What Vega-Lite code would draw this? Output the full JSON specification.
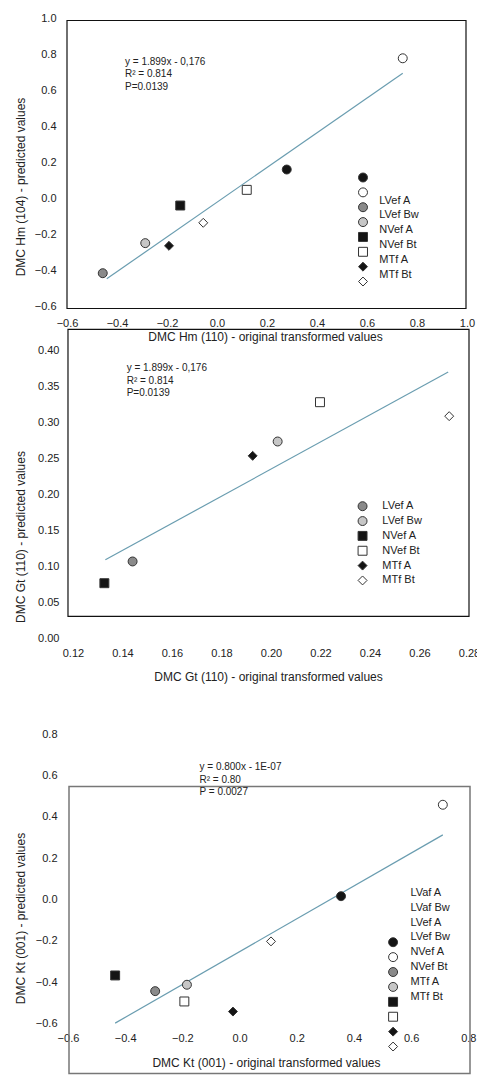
{
  "$schema": "https://vega.github.io/schema/vega-lite/v6.json",
  "autosize": {"type": "pad"},
  "padding": {"left": 14, "top": 12.5, "right": 0, "bottom": 0},
  "background": "white",
  "bounds": "flush",
  "spacing": 0,
  "config": {
    "font": "Liberation Sans",
    "view": {"stroke": null},
    "axis": {"grid": false, "domain": false, "ticks": false, "tickSize": 0, "tickCount": 30, "labelFontSize": 11, "titleFontSize": 12, "titleFontWeight": "normal", "labelColor": "#222", "titleColor": "#222", "labelFlush": false, "labelOverlap": false, "labelBound": false, "titleBaseline": "middle", "titleAlign": "center"},
    "text": {"color": "#222"}
  },
  "vconcat": [
    {
      "width": 400, "height": 288,
      "layer": [
        {
          "layer": [
            {
              "data": {"values": [
                {"series": "LVaf A", "x": 0.279, "y": 0.161},
                {"series": "LVaf Bw", "x": 0.743, "y": 0.779},
                {"series": "LVef A", "x": -0.457, "y": -0.415},
                {"series": "LVef Bw", "x": -0.287, "y": -0.248},
                {"series": "NVef A", "x": -0.147, "y": -0.039},
                {"series": "NVef Bt", "x": 0.119, "y": 0.048},
                {"series": "MTf A", "x": -0.192, "y": -0.263},
                {"series": "MTf Bt", "x": -0.055, "y": -0.135}
              ]},
              "mark": {"type": "point", "filled": true, "stroke": "#333", "strokeWidth": 1, "opacity": 1},
              "encoding": {
                "x": {"field": "x", "type": "quantitative", "scale": {"domain": [-0.6, 1.0], "nice": false, "zero": false},
                  "axis": {"title": "DMC Hm (110) - original transformed values", "values": [-0.6, -0.4, -0.2, 0, 0.2, 0.4, 0.6, 0.8, 1.0], "tickCount": 30, "format": ".1f", "labelOverlap": false, "labelPadding": 16.7, "labelBaseline": "middle", "titleX": 198, "titleY": 30}},
                "y": {"field": "y", "type": "quantitative", "scale": {"domain": [-0.6, 1.0], "nice": false, "zero": false},
                  "axis": {"title": "DMC Hm (104) - predicted values", "values": [-0.6, -0.4, -0.2, 0, 0.2, 0.4, 0.6, 0.8, 1.0], "tickCount": 30, "format": ".1f", "labelOverlap": false, "labelPadding": 11, "titleX": -47, "titleY": 168}},
                "shape": {"field": "series", "type": "nominal", "legend": null, "scale": {"domain": ["LVaf A", "LVaf Bw", "LVef A", "LVef Bw", "NVef A", "NVef Bt", "MTf A", "MTf Bt"], "range": ["circle", "circle", "circle", "circle", "square", "square", "diamond", "diamond"]}},
                "fill": {"field": "series", "type": "nominal", "legend": null, "scale": {"domain": ["LVaf A", "LVaf Bw", "LVef A", "LVef Bw", "NVef A", "NVef Bt", "MTf A", "MTf Bt"], "range": ["#141414", "#ffffff", "#8a8a8a", "#c6c6c6", "#141414", "#ffffff", "#141414", "#ffffff"]}},
                "size": {"field": "series", "type": "nominal", "legend": null, "scale": {"domain": ["LVaf A", "LVaf Bw", "LVef A", "LVef Bw", "NVef A", "NVef Bt", "MTf A", "MTf Bt"], "range": [80, 80, 80, 80, 68, 68, 140, 140]}}
              }
            },
            {
              "data": {"values": [{}]},
              "mark": {"type": "rect", "fillOpacity": 0, "stroke": "#111", "strokeWidth": 1.2},
              "encoding": {
                "x": {"datum": -0.6, "type": "quantitative", "scale": {"domain": [-0.6, 1.0], "nice": false, "zero": false}},
                "x2": {"datum": 0.996},
                "y": {"datum": -0.611, "type": "quantitative", "scale": {"domain": [-0.6, 1.0], "nice": false, "zero": false}},
                "y2": {"datum": 0.989}
              }
            },
            {
              "data": {"values": [{"x": -0.441, "y": -0.446}, {"x": 0.743, "y": 0.696}]},
              "mark": {"type": "line", "color": "#6a9db0", "strokeWidth": 1.2},
              "encoding": {
                "x": {"field": "x", "type": "quantitative", "scale": {"domain": [-0.6, 1.0], "nice": false, "zero": false}},
                "y": {"field": "y", "type": "quantitative", "scale": {"domain": [-0.6, 1.0], "nice": false, "zero": false}}
              }
            },
            {
              "data": {"values": [{"t": ["y = 1.899x - 0,176", "R² = 0.814", "P=0.0139"]}]},
              "mark": {"type": "text", "align": "left", "baseline": "top", "fontSize": 10, "lineHeight": 12.3},
              "encoding": {
                "x": {"datum": -0.368, "type": "quantitative"},
                "y": {"datum": 0.786, "type": "quantitative"},
                "text": {"field": "t"}
              }
            }
          ]
        },
        {
          "layer": [
            {
              "data": {"values": [
                {"series": "LVaf A", "r": 0}, {"series": "LVaf Bw", "r": 1}, {"series": "LVef A", "r": 2}, {"series": "LVef Bw", "r": 3},
                {"series": "NVef A", "r": 4}, {"series": "NVef Bt", "r": 5}, {"series": "MTf A", "r": 6}, {"series": "MTf Bt", "r": 7}
              ]},
              "mark": {"type": "point", "filled": true, "stroke": "#333", "strokeWidth": 1, "opacity": 1},
              "encoding": {
                "x": {"datum": 0.584, "type": "quantitative"},
                "y": {"field": "r", "type": "quantitative", "axis": null, "scale": {"domain": [-10.70, 8.681], "reverse": true, "nice": false, "zero": false}},
                "shape": {"field": "series", "type": "nominal", "legend": null},
                "fill": {"field": "series", "type": "nominal", "legend": null},
                "size": {"field": "series", "type": "nominal", "legend": null}
              }
            },
            {
              "data": {"values": [
                {"label": "LVef A", "r": 0}, {"label": "LVef Bw", "r": 1}, {"label": "NVef A", "r": 2},
                {"label": "NVef Bt", "r": 3}, {"label": "MTf A", "r": 4}, {"label": "MTf Bt", "r": 5}
              ]},
              "mark": {"type": "text", "align": "left", "baseline": "middle", "fontSize": 11, "dy": 23},
              "encoding": {
                "x": {"datum": 0.649, "type": "quantitative"},
                "y": {"field": "r", "type": "quantitative", "axis": null, "scale": {"domain": [-10.70, 8.681], "reverse": true, "nice": false, "zero": false}},
                "text": {"field": "label"}
              }
            }
          ]
        }
      ],
      "resolve": {"scale": {"y": "independent"}}
    },
    {
      "width": 402, "height": 332,
      "layer": [
        {
          "layer": [
            {
              "data": {"values": [{}]},
              "mark": {"type": "rect", "fillOpacity": 0, "stroke": "#111", "strokeWidth": 1.2},
              "encoding": {
                "x": {"datum": 0.118, "type": "quantitative", "scale": {"domain": [0.1176, 0.28], "nice": false, "zero": false}},
                "x2": {"datum": 0.28},
                "y": {"datum": 0.0306, "type": "quantitative", "scale": {"domain": [0, 0.4611], "nice": false, "zero": false}},
                "y2": {"datum": 0.4292}
              }
            },
            {
              "data": {"values": [{"x": 0.1331, "y": 0.1093}, {"x": 0.2716, "y": 0.370}]},
              "mark": {"type": "line", "color": "#6a9db0", "strokeWidth": 1.2},
              "encoding": {
                "x": {"field": "x", "type": "quantitative", "scale": {"domain": [0.1176, 0.28], "nice": false, "zero": false}},
                "y": {"field": "y", "type": "quantitative", "scale": {"domain": [0, 0.4611], "nice": false, "zero": false}}
              }
            },
            {
              "data": {"values": [
                {"series": "LVef A", "x": 0.1441, "y": 0.107},
                {"series": "NVef A", "x": 0.1327, "y": 0.0768},
                {"series": "MTf A", "x": 0.1926, "y": 0.2537},
                {"series": "LVef Bw", "x": 0.2027, "y": 0.2736},
                {"series": "NVef Bt", "x": 0.2198, "y": 0.3282},
                {"series": "MTf Bt", "x": 0.272, "y": 0.3088}
              ]},
              "mark": {"type": "point", "filled": true, "stroke": "#333", "strokeWidth": 1, "opacity": 1},
              "encoding": {
                "x": {"field": "x", "type": "quantitative", "scale": {"domain": [0.1176, 0.28], "nice": false, "zero": false},
                  "axis": {"title": "DMC Gt (110) - original transformed values", "values": [0.12, 0.14, 0.16, 0.18, 0.2, 0.22, 0.24, 0.26, 0.28], "tickCount": 30, "format": ".2f", "labelOverlap": false, "labelPadding": 15, "labelBaseline": "middle", "titleX": 201, "titleY": 37.7}},
                "y": {"field": "y", "type": "quantitative", "scale": {"domain": [0, 0.4611], "nice": false, "zero": false},
                  "axis": {"title": "DMC Gt (110) - predicted values", "values": [0, 0.05, 0.1, 0.15, 0.2, 0.25, 0.3, 0.35, 0.4], "tickCount": 30, "format": ".2f", "labelOverlap": false, "labelPadding": 8, "titleX": -47, "titleY": 230}},
                "shape": {"field": "series", "type": "nominal", "legend": null, "scale": {"domain": ["LVaf A", "LVaf Bw", "LVef A", "LVef Bw", "NVef A", "NVef Bt", "MTf A", "MTf Bt"], "range": ["circle", "circle", "circle", "circle", "square", "square", "diamond", "diamond"]}},
                "fill": {"field": "series", "type": "nominal", "legend": null, "scale": {"domain": ["LVaf A", "LVaf Bw", "LVef A", "LVef Bw", "NVef A", "NVef Bt", "MTf A", "MTf Bt"], "range": ["#141414", "#ffffff", "#8a8a8a", "#c6c6c6", "#141414", "#ffffff", "#141414", "#ffffff"]}},
                "size": {"field": "series", "type": "nominal", "legend": null, "scale": {"domain": ["LVaf A", "LVaf Bw", "LVef A", "LVef Bw", "NVef A", "NVef Bt", "MTf A", "MTf Bt"], "range": [80, 80, 80, 80, 68, 68, 140, 140]}}
              }
            },
            {
              "data": {"values": [{"t": ["y = 1.899x - 0,176", "R² = 0.814", "P=0.0139"]}]},
              "mark": {"type": "text", "align": "left", "baseline": "top", "fontSize": 10, "lineHeight": 12.4},
              "encoding": {
                "x": {"datum": 0.1417, "type": "quantitative"},
                "y": {"datum": 0.382, "type": "quantitative"},
                "text": {"field": "t"}
              }
            }
          ]
        },
        {
          "layer": [
            {
              "data": {"values": [
                {"series": "LVef A", "r": 0}, {"series": "LVef Bw", "r": 1}, {"series": "NVef A", "r": 2},
                {"series": "NVef Bt", "r": 3}, {"series": "MTf A", "r": 4}, {"series": "MTf Bt", "r": 5}
              ]},
              "mark": {"type": "point", "filled": true, "stroke": "#333", "strokeWidth": 1, "opacity": 1},
              "encoding": {
                "x": {"datum": 0.237, "type": "quantitative"},
                "y": {"field": "r", "type": "quantitative", "axis": null, "scale": {"domain": [-13.448, 8.909], "reverse": true, "nice": false, "zero": false}},
                "shape": {"field": "series", "type": "nominal", "legend": null},
                "fill": {"field": "series", "type": "nominal", "legend": null},
                "size": {"field": "series", "type": "nominal", "legend": null}
              }
            },
            {
              "data": {"values": [
                {"label": "LVef A", "r": 0}, {"label": "LVef Bw", "r": 1}, {"label": "NVef A", "r": 2},
                {"label": "NVef Bt", "r": 3}, {"label": "MTf A", "r": 4}, {"label": "MTf Bt", "r": 5}
              ]},
              "mark": {"type": "text", "align": "left", "baseline": "middle", "fontSize": 11},
              "encoding": {
                "x": {"datum": 0.245, "type": "quantitative"},
                "y": {"field": "r", "type": "quantitative", "axis": null, "scale": {"domain": [-13.448, 8.909], "reverse": true, "nice": false, "zero": false}},
                "text": {"field": "label"}
              }
            }
          ]
        }
      ],
      "resolve": {"scale": {"y": "independent"}}
    },
    {
      "width": 403, "height": 390,
      "layer": [
        {
          "layer": [
            {
              "data": {"values": [{}]},
              "mark": {"type": "rect", "fillOpacity": 0, "stroke": "#777", "strokeWidth": 1.5},
              "encoding": {
                "x": {"datum": -0.5964, "type": "quantitative", "scale": {"domain": [-0.6034, 0.806], "nice": false, "zero": false}},
                "x2": {"datum": 0.806},
                "y": {"datum": -0.843, "type": "quantitative", "scale": {"domain": [-0.625, 1.2645], "nice": false, "zero": false}},
                "y2": {"datum": 0.5475}
              }
            },
            {
              "data": {"values": [{"x": -0.435, "y": -0.599}, {"x": 0.711, "y": 0.313}]},
              "mark": {"type": "line", "color": "#6a9db0", "strokeWidth": 1.2},
              "encoding": {
                "x": {"field": "x", "type": "quantitative", "scale": {"domain": [-0.6034, 0.806], "nice": false, "zero": false}},
                "y": {"field": "y", "type": "quantitative", "scale": {"domain": [-0.625, 1.2645], "nice": false, "zero": false}}
              }
            },
            {
              "data": {"values": [
                {"series": "LVaf A", "x": 0.355, "y": 0.016},
                {"series": "LVaf Bw", "x": 0.711, "y": 0.459},
                {"series": "LVef A", "x": -0.295, "y": -0.444},
                {"series": "LVef Bw", "x": -0.184, "y": -0.413},
                {"series": "NVef A", "x": -0.435, "y": -0.368},
                {"series": "NVef Bt", "x": -0.193, "y": -0.494},
                {"series": "MTf A", "x": -0.023, "y": -0.543},
                {"series": "MTf Bt", "x": 0.11, "y": -0.203}
              ]},
              "mark": {"type": "point", "filled": true, "stroke": "#333", "strokeWidth": 1, "opacity": 1},
              "encoding": {
                "x": {"field": "x", "type": "quantitative", "scale": {"domain": [-0.6034, 0.806], "nice": false, "zero": false},
                  "axis": {"title": "DMC Kt (001) - original transformed values", "values": [-0.6, -0.4, -0.2, 0, 0.2, 0.4, 0.6, 0.8], "tickCount": 30, "format": ".1f", "labelOverlap": false, "labelPadding": 10, "labelBaseline": "middle", "titleX": 199, "titleY": 34}},
                "y": {"field": "y", "type": "quantitative", "scale": {"domain": [-0.625, 1.2645], "nice": false, "zero": false},
                  "axis": {"title": "DMC Kt (001) - predicted values", "values": [-0.6, -0.4, -0.2, 0, 0.2, 0.4, 0.6, 0.8], "tickCount": 30, "format": ".1f", "labelOverlap": false, "labelPadding": 10, "titleX": -47, "titleY": 279.5}},
                "shape": {"field": "series", "type": "nominal", "legend": null, "scale": {"domain": ["LVaf A", "LVaf Bw", "LVef A", "LVef Bw", "NVef A", "NVef Bt", "MTf A", "MTf Bt"], "range": ["circle", "circle", "circle", "circle", "square", "square", "diamond", "diamond"]}},
                "fill": {"field": "series", "type": "nominal", "legend": null, "scale": {"domain": ["LVaf A", "LVaf Bw", "LVef A", "LVef Bw", "NVef A", "NVef Bt", "MTf A", "MTf Bt"], "range": ["#141414", "#ffffff", "#8a8a8a", "#c6c6c6", "#141414", "#ffffff", "#141414", "#ffffff"]}},
                "size": {"field": "series", "type": "nominal", "legend": null, "scale": {"domain": ["LVaf A", "LVaf Bw", "LVef A", "LVef Bw", "NVef A", "NVef Bt", "MTf A", "MTf Bt"], "range": [80, 80, 80, 80, 68, 68, 140, 140]}}
              }
            },
            {
              "data": {"values": [{"t": ["y = 0.800x - 1E-07", "R² = 0.80", "P = 0.0027"]}]},
              "mark": {"type": "text", "align": "left", "baseline": "top", "fontSize": 10, "lineHeight": 12.3},
              "encoding": {
                "x": {"datum": -0.14, "type": "quantitative"},
                "y": {"datum": 0.664, "type": "quantitative"},
                "text": {"field": "t"}
              }
            }
          ]
        },
        {
          "layer": [
            {
              "data": {"values": [
                {"series": "LVaf A", "r": 0}, {"series": "LVaf Bw", "r": 1}, {"series": "LVef A", "r": 2}, {"series": "LVef Bw", "r": 3},
                {"series": "NVef A", "r": 4}, {"series": "NVef Bt", "r": 5}, {"series": "MTf A", "r": 6}, {"series": "MTf Bt", "r": 7}
              ]},
              "mark": {"type": "point", "filled": true, "stroke": "#333", "strokeWidth": 1, "opacity": 1},
              "encoding": {
                "x": {"datum": 0.537, "type": "quantitative"},
                "y": {"field": "r", "type": "quantitative", "axis": null, "scale": {"domain": [-20.38, 5.79], "reverse": true, "nice": false, "zero": false}},
                "shape": {"field": "series", "type": "nominal", "legend": null},
                "fill": {"field": "series", "type": "nominal", "legend": null},
                "size": {"field": "series", "type": "nominal", "legend": null}
              }
            },
            {
              "data": {"values": [
                {"label": "LVaf A", "r": 0}, {"label": "LVaf Bw", "r": 1}, {"label": "LVef A", "r": 2}, {"label": "LVef Bw", "r": 3},
                {"label": "NVef A", "r": 4}, {"label": "NVef Bt", "r": 5}, {"label": "MTf A", "r": 6}, {"label": "MTf Bt", "r": 7}
              ]},
              "mark": {"type": "text", "align": "left", "baseline": "middle", "fontSize": 11, "dy": -49.5},
              "encoding": {
                "x": {"datum": 0.5975, "type": "quantitative"},
                "y": {"field": "r", "type": "quantitative", "axis": null, "scale": {"domain": [-20.38, 5.79], "reverse": true, "nice": false, "zero": false}},
                "text": {"field": "label"}
              }
            }
          ]
        }
      ],
      "resolve": {"scale": {"y": "independent"}}
    }
  ]
}
